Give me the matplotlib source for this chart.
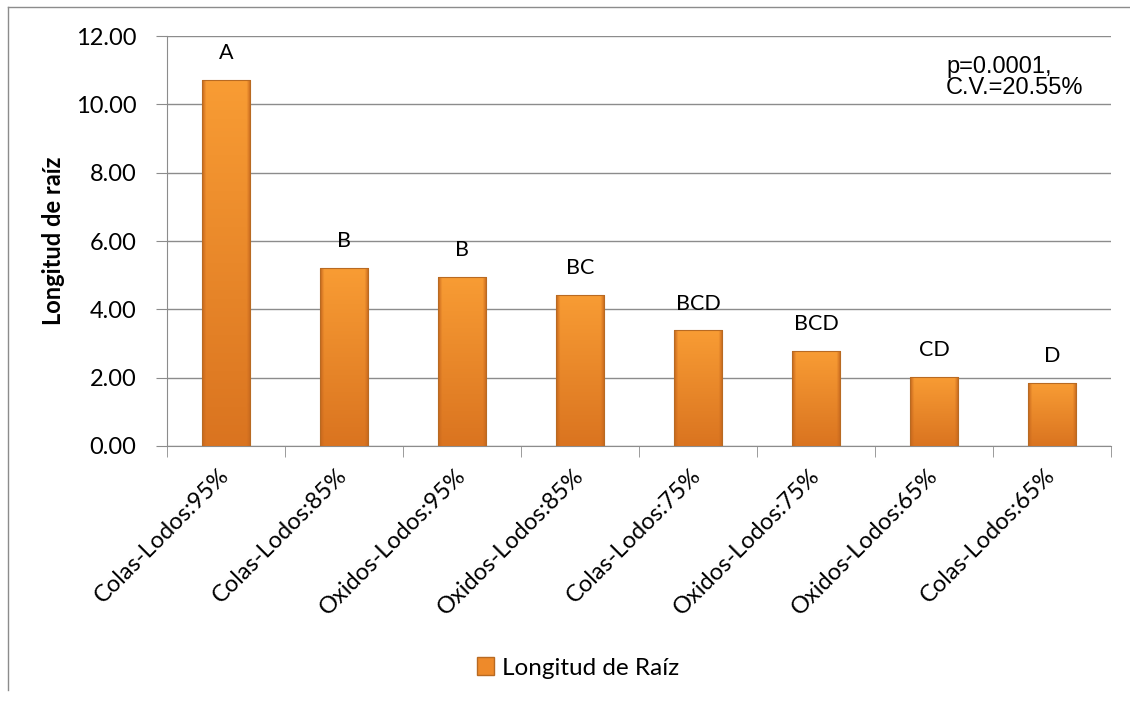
import matplotlib
matplotlib.use("Agg")
import matplotlib.pyplot as plt
import numpy as np
from matplotlib.patches import Patch
from matplotlib.lines import Line2D

categories = ["Colas-Lodos:95%", "Colas-Lodos:85%", "Oxidos-Lodos:95%", "Oxidos-Lodos:85%",
              "Colas-Lodos:75%", "Oxidos-Lodos:75%", "Oxidos-Lodos:65%", "Colas-Lodos:65%"]
values = [10.71, 5.21, 4.95, 4.42, 3.39, 2.78, 2.02, 1.84]
letters = ["A", "B", "B", "BC", "BCD", "BCD", "CD", "D"]
yticks = [0, 2, 4, 6, 8, 10, 12]
series_name = "Longitud de Raíz"
stats_text = "p=0.0001,\nC.V.=20.55%"

plt.rcParams['font.family'] = ['Lato', 'DejaVu Sans']

fig = plt.figure(figsize=(11.3, 7.05), dpi=100)
ax = fig.add_axes([0.1478, 0.3674, 0.8354, 0.5815])

x = np.arange(len(categories))
bars = ax.bar(x, values, width=0.41, color="#F28E2B", edgecolor="#B86A22", linewidth=0.8, zorder=3)

# bevelled gradient fill for bars
nx = 48
hx = np.linspace(0, 1, nx)
edge = np.clip(np.minimum(hx, 1 - hx) / 0.08, 0, 1)  # darker at the side edges
top = np.array([248, 156, 52]) / 255.0
bot = np.array([218, 116, 32]) / 255.0
side = np.array([200, 105, 30]) / 255.0
for b in bars:
    x0, y0 = b.get_x(), b.get_y()
    w, h = b.get_width(), b.get_height()
    ny = 64
    vy = np.linspace(0, 1, ny)[:, None, None]  # 0 top -> 1 bottom
    base = top[None, None, :] * (1 - vy) + bot[None, None, :] * vy
    e = edge[None, :, None]
    img = base * e + side[None, None, :] * (1 - e)
    im = ax.imshow(img, extent=[x0, x0 + w, y0, y0 + h], aspect='auto', zorder=3.5,
                   interpolation='bilinear')
    im.set_clip_path(b)
    b.set_facecolor("none")
    b.set_zorder(4)

ax.set_xlim(-0.5, len(categories) - 0.5)
ax.set_ylim(0, 12)
ax.set_yticks(yticks)
ax.set_yticklabels([f"{v:.2f}" for v in yticks], fontsize=17)
ax.yaxis.grid(True, color="#8C8C8C", linewidth=1.0, zorder=0)
ax.set_axisbelow(True)

ax.set_xticks(x)
ax.set_xticklabels(categories, rotation=45, ha="right", va="center", rotation_mode="anchor", fontsize=17)
ax.set_xticks(np.arange(len(categories) + 1) - 0.5, minor=True)
ax.tick_params(axis="x", which="major", length=0, pad=19)
ax.tick_params(axis="x", which="minor", length=8, color="#8C8C8C", direction="out")
ax.tick_params(axis="y", length=8, color="#8C8C8C", direction="out", pad=14)

for s in ["top", "right"]:
    ax.spines[s].set_visible(False)
ax.spines["left"].set_color("#8C8C8C")
ax.spines["bottom"].set_color("#8C8C8C")

for xi, v, lab in zip(x, values, letters):
    ax.annotate(lab, (xi, v), xytext=(0, 12), textcoords="offset points",
                ha="center", va="bottom", fontsize=15.5)

ax.set_ylabel("Longitud de raíz", fontsize=17, fontweight="bold", labelpad=8)

fig.text(946 / 1130, 1 - 56 / 705, stats_text, fontsize=17, family=["Liberation Sans", "DejaVu Sans"],
         ha="left", va="top", linespacing=0.95)

leg = fig.legend(handles=[Patch(facecolor="#EE8A2A", edgecolor="#B86A22", label=series_name)],
                 loc="center", bbox_to_anchor=(578 / 1130, 1 - 668 / 705), frameon=False,
                 fontsize=17.5, handlelength=0.7, handleheight=0.7, handletextpad=0.3)

fig.add_artist(Line2D([8 / 1130, 8 / 1130], [1 - 690 / 705, 1 - 7 / 705], color="#8C8C8C", linewidth=1))
fig.add_artist(Line2D([8 / 1130, 1.0], [1 - 7 / 705, 1 - 7 / 705], color="#8C8C8C", linewidth=1))

fig.savefig("out.png", dpi=100)
